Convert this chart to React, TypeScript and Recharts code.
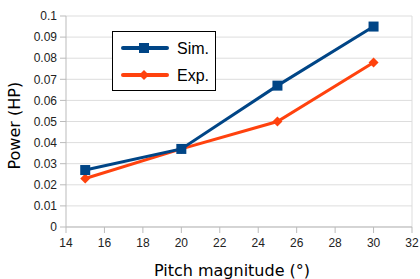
import React from "react";
import {
  LineChart,
  Line,
  XAxis,
  YAxis,
  CartesianGrid,
  ReferenceLine,
} from "recharts";

const pitch = [15, 20, 25, 30];
const simPower = [0.027, 0.037, 0.067, 0.095];
const expPower = [0.023, 0.037, 0.05, 0.078];
const xTicks = [14, 16, 18, 20, 22, 24, 26, 28, 30, 32];
const yTicks = [0, 0.01, 0.02, 0.03, 0.04, 0.05, 0.06, 0.07, 0.08, 0.09, 0.1];
const seriesNames = ["Sim.", "Exp."];

const data = pitch.map((p, i) => ({ pitch: p, sim: simPower[i], exp: expPower[i] }));

const SIM = "#004586";
const EXP = "#ff420e";
const TICK_FONT = "'Liberation Sans', Arial, sans-serif";
const TITLE_FONT = "'DejaVu Sans', sans-serif";

const SquareDot = (props: any) => {
  const { cx, cy } = props;
  if (cx == null || cy == null) return null;
  return <rect x={cx - 5} y={cy - 5} width={10} height={10} fill={SIM} />;
};

const DiamondDot = (props: any) => {
  const { cx, cy } = props;
  if (cx == null || cy == null) return null;
  return (
    <polygon
      points={`${cx},${cy - 5} ${cx + 5},${cy} ${cx},${cy + 5} ${cx - 5},${cy}`}
      fill={EXP}
    />
  );
};

const LegendBox = () => (
  <svg width={105} height={61} style={{ display: "block" }}>
    <rect x={0.5} y={0.5} width={103} height={59} fill="#fff" stroke="#000" strokeWidth={1} />
    <line x1={11} y1={17} x2={55} y2={17} stroke={SIM} strokeWidth={4} strokeLinecap="round" />
    <rect x={27} y={12} width={10} height={10} fill={SIM} />
    <text x={65} y={23} fontFamily={TICK_FONT} fontSize={16} fill="#000">{seriesNames[0]}</text>
    <line x1={11} y1={44} x2={55} y2={44} stroke={EXP} strokeWidth={4} strokeLinecap="round" />
    <polygon points="32,39 37,44 32,49 27,44" fill={EXP} />
    <text x={65} y={50} fontFamily={TICK_FONT} fontSize={16} fill="#000">{seriesNames[1]}</text>
  </svg>
);

export default function App() {
  return (
    <div style={{ position: "absolute", left: 0, top: 0, width: 420, height: 279, background: "#fff" }}>
      <LineChart
        width={420}
        height={279}
        data={data}
        margin={{ top: 16, right: 8, left: 0, bottom: 0 }}
      >
        <CartesianGrid vertical={false} stroke="#dddddd" strokeWidth={1} />
        <ReferenceLine x={32} stroke="#dddddd" strokeWidth={1} />
        <XAxis
          dataKey="pitch"
          type="number"
          domain={[14, 32]}
          ticks={xTicks}
          interval={0}
          height={52}
          stroke="#bbbbbb"
          tickSize={6}
          tickMargin={5}
          tick={{ fill: "#222", fontSize: 12, fontFamily: TICK_FONT }}
          label={{
            value: "Pitch magnitude (°)",
            position: "insideBottom",
            offset: 3,
            dx: -7,
            fill: "#000",
            fontSize: 16,
            fontFamily: TITLE_FONT,
          }}
        />
        <YAxis
          type="number"
          domain={[0, 0.1]}
          ticks={yTicks}
          interval={0}
          width={66}
          stroke="#bbbbbb"
          tickSize={6}
          tickMargin={3}
          tick={{ fill: "#222", fontSize: 12, fontFamily: TICK_FONT }}
          label={{
            value: "Power (HP)",
            angle: -90,
            position: "insideLeft",
            offset: 14,
            dy: 48,
            fill: "#000",
            fontSize: 16,
            fontFamily: TITLE_FONT,
          }}
        />
        <Line
          dataKey="exp"
          name={seriesNames[1]}
          stroke={EXP}
          strokeWidth={3}
          dot={<DiamondDot />}
          activeDot={false}
          isAnimationActive={false}
        />
        <Line
          dataKey="sim"
          name={seriesNames[0]}
          stroke={SIM}
          strokeWidth={3}
          dot={<SquareDot />}
          activeDot={false}
          isAnimationActive={false}
        />
      </LineChart>
      <div style={{ position: "absolute", left: 112, top: 31 }}>
        <LegendBox />
      </div>
    </div>
  );
}
